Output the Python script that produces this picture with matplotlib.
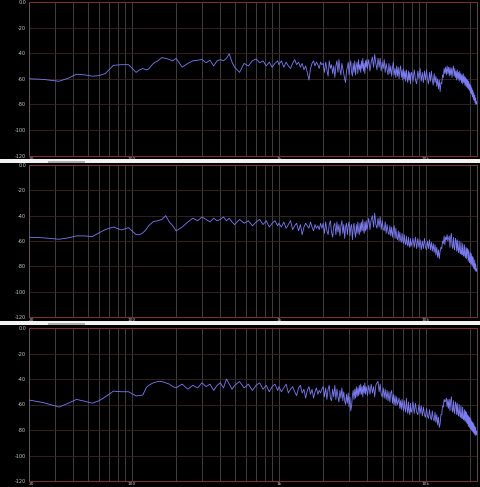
import numpy as np
import matplotlib.pyplot as plt
from matplotlib.patches import Rectangle
from matplotlib.transforms import blended_transform_factory

# frequency bins (Hz), shared by the three captures
freq_hz = [20, 25, 32, 37, 42, 48, 54, 60, 66, 75, 85, 95, 107, 113, 119, 125, 130, 140, 150, 160, 170, 180, 190,
           200, 220, 240, 260, 280, 300, 320, 340, 360, 380, 400, 420, 440, 460, 480, 500,
           540, 580, 620, 660, 700, 740, 780, 820, 860, 900, 940, 980,
           1000, 1040, 1080, 1120, 1160, 1200, 1240, 1280, 1320, 1360, 1400, 1440, 1480,
           1520, 1560, 1600, 1640, 1680, 1720, 1760, 1800, 1840, 1880, 1920, 1960,
           2000, 2040, 2080, 2120, 2160, 2200, 2240, 2280, 2320, 2360,
           2400, 2440, 2480, 2520, 2560, 2600, 2640, 2680, 2720, 2760,
           2800, 2840, 2880, 2920, 2960, 3000, 3040, 3080, 3120, 3160,
           3200, 3240, 3280, 3320, 3360, 3400, 3440, 3480, 3520, 3560,
           3600, 3640, 3680, 3720, 3760, 3800, 3840, 3880, 3920, 3960,
           4000, 4080, 4160, 4240, 4320, 4400, 4480, 4560, 4640, 4720,
           4800, 4880, 4960, 5040, 5120, 5200, 5280, 5360, 5440, 5520,
           5600, 5680, 5760, 5840, 5920, 6000, 6080, 6160, 6240, 6320,
           6400, 6480, 6560, 6640, 6720, 6800, 6880, 6960, 7040, 7120,
           7200, 7280, 7360, 7440, 7520, 7600, 7680, 7760, 7840, 7920,
           8000, 8160, 8320, 8480, 8640, 8800, 8960, 9120, 9280, 9440,
           9600, 9760, 9920, 10080, 10240, 10400, 10560, 10720, 10880, 11040,
           11200, 11360, 11520, 11680, 11840, 12000, 12160, 12320, 12480, 12640,
           12800, 12960, 13120, 13280, 13440, 13600, 13760, 13920, 14080, 14240,
           14400, 14560, 14720, 14880, 15040, 15200, 15360, 15520, 15680, 15840,
           16000, 16160, 16320, 16480, 16640, 16800, 16960, 17120, 17280, 17440,
           17600, 17760, 17920, 18080, 18240, 18400, 18560, 18720, 18880, 19040,
           19200, 19360, 19520, 19680, 19840, 20000, 20160, 20320, 20480, 20640,
           20800, 20960, 21120, 21280, 21440, 21600, 21760, 21920, 22050]

# level in dB, top capture
db_top = [-60, -60.5, -62, -59.5, -56.5, -57, -58, -57.5, -56, -49.5, -49, -49, -55, -53, -52, -53, -52.5, -48, -46, -43.5, -44, -45, -46,
          -44, -51, -48, -46, -45.5, -45, -47.5, -45.5, -50, -46, -45, -46, -44, -40.5, -47, -51,
          -55, -48, -50, -46, -44.5, -47.5, -46, -50, -47, -51, -48, -46,
          -49, -46, -51, -47, -50, -52, -48, -45, -49, -47, -51, -48, -53,
          -50, -55, -61, -52, -48, -46, -50, -47, -49, -52, -47, -49,
          -48, -55, -47, -53, -58, -46, -52, -49, -56, -50,
          -59, -50, -46, -55, -45, -53, -57, -48, -52, -56,
          -60, -63, -54, -51, -47, -57, -50, -46, -55, -58,
          -48, -55, -46, -57, -50, -47, -56, -45, -53, -49,
          -55, -46, -52, -44, -54, -48, -56, -46, -51, -45,
          -52, -45, -54, -47, -43, -51, -41, -48, -53, -44,
          -51, -44, -54, -47, -52, -45, -55, -48, -53, -57,
          -48, -56, -50, -58, -51, -47, -57, -52, -59, -50,
          -58, -51, -60, -53, -50, -59, -53, -61, -52, -60,
          -54, -62, -53, -59, -63, -54, -61, -55, -64, -56,
          -55, -62, -53, -61, -64, -54, -60, -52, -62, -55,
          -63, -54, -61, -53, -60, -64, -55, -62, -54, -61,
          -65, -56, -63, -58, -66, -60, -68, -61, -70, -63,
          -64, -57, -59, -52, -56, -51, -57, -50, -56, -51,
          -58, -51, -57, -52, -59, -53, -50, -58, -52, -59,
          -54, -61, -53, -60, -55, -62, -54, -61, -56, -63,
          -57, -64, -56, -63, -58, -65, -59, -66, -60, -67,
          -61, -68, -62, -69, -64, -71, -65, -72, -67, -74,
          -69, -76, -71, -77, -73, -79, -75, -80, -78]

# middle capture
db_mid = [-57, -57.5, -58.6, -57.5, -56, -56, -56.5, -53.5, -51, -49, -51.3, -49.5, -55, -55, -53.5, -51, -48, -44.7, -44, -43, -40, -45, -48,
          -52, -49, -45, -42, -44, -41, -43, -45, -42, -44, -43, -41, -44, -42, -45, -47,
          -43, -46, -44, -48, -45, -43, -47, -44, -49, -46, -44, -48,
          -46, -49, -45, -50, -47, -44, -51, -48, -46, -52, -47, -55, -49,
          -46, -48, -50, -45, -49, -52, -47, -50, -48, -51, -46, -50,
          -46, -54, -45, -52, -55, -47, -44, -53, -57, -48,
          -46, -55, -45, -53, -47, -56, -48, -44, -54, -47,
          -58, -49, -46, -55, -48, -45, -56, -49, -47, -59,
          -50, -46, -53, -57, -47, -54, -45, -52, -55, -46,
          -53, -45, -52, -43, -51, -54, -45, -52, -44, -51,
          -49, -42, -51, -43, -40, -49, -38, -47, -50, -42,
          -49, -41, -51, -44, -50, -52, -45, -54, -47, -53,
          -55, -48, -56, -49, -57, -51, -48, -58, -50, -57,
          -59, -52, -60, -53, -59, -61, -54, -60, -62, -55,
          -61, -63, -56, -62, -64, -57, -63, -65, -58, -64,
          -62, -58, -65, -57, -66, -58, -65, -59, -67, -60,
          -66, -58, -65, -67, -60, -66, -59, -67, -61, -68,
          -62, -69, -63, -71, -65, -73, -67, -74, -68, -65,
          -66, -60, -62, -56, -63, -57, -59, -55, -60, -58,
          -56, -65, -57, -54, -64, -66, -57, -65, -67, -58,
          -60, -68, -59, -67, -69, -60, -68, -70, -61, -69,
          -71, -62, -70, -72, -63, -71, -73, -65, -74, -66,
          -68, -76, -67, -75, -77, -69, -78, -70, -79, -72,
          -80, -73, -81, -82, -75, -83, -78, -84, -82]

# bottom capture
db_bottom = [-56.5, -58.5, -62, -59, -56, -57.5, -59, -57, -54, -49.5, -50, -50, -53.3, -53, -52.5, -47, -45, -43, -42, -42, -43, -44, -46,
             -47, -44, -48, -45, -47, -43, -46, -44, -49, -45, -43, -47, -40, -44, -48, -45,
             -42, -47, -44, -49, -45, -43, -48, -45, -50, -46, -44, -49,
             -46, -50, -47, -44, -51, -48, -46, -50, -53, -47, -45, -51, -48,
             -55, -49, -46, -52, -48, -55, -50, -47, -52, -49, -51, -48,
             -46, -54, -47, -56, -48, -45, -55, -57, -48, -54,
             -45, -56, -48, -54, -58, -49, -55, -47, -57, -50,
             -57, -60, -52, -59, -51, -62, -54, -65, -61, -53,
             -49, -56, -48, -55, -46, -54, -47, -53, -45, -52,
             -44, -52, -46, -54, -45, -51, -43, -52, -46, -49,
             -53, -45, -52, -44, -51, -46, -54, -45, -43, -42,
             -50, -44, -52, -54, -47, -55, -48, -56, -49, -57,
             -50, -58, -51, -49, -59, -52, -60, -53, -61, -54,
             -60, -58, -55, -63, -57, -64, -56, -62, -65, -57,
             -63, -66, -55, -63, -67, -58, -65, -68, -59, -66,
             -65, -58, -67, -59, -66, -68, -60, -67, -61, -69,
             -62, -68, -70, -63, -69, -71, -64, -70, -72, -65,
             -71, -73, -66, -74, -68, -76, -70, -78, -75, -68,
             -68, -61, -62, -56, -58, -57, -55, -62, -56, -63,
             -56, -65, -57, -54, -64, -66, -57, -65, -67, -58,
             -60, -68, -59, -67, -69, -60, -68, -70, -61, -69,
             -71, -62, -70, -72, -64, -73, -65, -74, -66, -75,
             -68, -77, -69, -78, -70, -79, -71, -80, -73, -81,
             -74, -82, -75, -83, -77, -84, -78, -84, -81]

db_ticks = [0, -20, -40, -60, -80, -100, -120]
db_tick_labels = ['0.0', '-20', '-40', '-60', '-80', '-100', '-120']
freq_ticks = [20, 100, 1000, 10000]
freq_tick_labels = ['20', '100', '1k', '10k']

W, H = 480, 487
fig = plt.figure(figsize=(W / 100, H / 100), dpi=100, facecolor='black')

# panel plot areas in pixels (top, bottom)
panels = [(2, 155.5), (165, 317), (328, 481)]
left_px, right_px = 29, 476.5

# white separators between the three captures
for y0, y1 in [(159, 163), (321, 325)]:
    fig.patches.append(Rectangle((0, 1 - y1 / H), 1, (y1 - y0) / H, transform=fig.transFigure,
                                 facecolor='#f2f2f2', edgecolor='none', zorder=0))
    fig.patches.append(Rectangle((48 / W, 1 - (y1 - 0.5) / H), 37 / W, 2 / H, transform=fig.transFigure,
                                 facecolor='#b0b0b0', edgecolor='none', zorder=1))

grid_freqs = [m * d for d in (10, 100, 1000, 10000) for m in range(1, 10) if 20 <= m * d <= 22050]

for (top, bot), db in zip(panels, [db_top, db_mid, db_bottom]):
    ax = fig.add_axes([left_px / W, 1 - bot / H, (right_px - left_px) / W, (bot - top) / H])
    ax.set_facecolor('black')
    ax.set_xscale('log')
    ax.set_xlim(20, 22050)
    ax.set_ylim(-120, 0)

    for f in grid_freqs:
        ax.axvline(f, color='#4a4a4a', lw=0.6, zorder=1)
    for d in db_ticks[1:-1]:
        ax.axhline(d, color='#3e2424', lw=0.6, zorder=1)

    ax.plot(freq_hz, db, color='#7c7cf2', lw=0.6, zorder=3)

    for side in ['top', 'bottom']:
        ax.spines[side].set_color('#7a3030')
        ax.spines[side].set_linewidth(0.8)
    for side in ['left', 'right']:
        ax.spines[side].set_color('#6a5a5a')
        ax.spines[side].set_linewidth(0.6)

    ax.set_xticks([])
    ax.minorticks_off()
    ax.set_yticks(db_ticks)
    ax.set_yticklabels(db_tick_labels)
    ax.tick_params(axis='y', length=0, pad=2, labelsize=3.5, labelcolor='#c8c8c8')

    trans = blended_transform_factory(ax.transData, ax.transAxes)
    for f, lab in zip(freq_ticks, freq_tick_labels):
        ax.text(f, -0.008, lab, transform=trans, ha='left' if f == 20 else 'center', va='top',
                fontsize=3.2, color='#c8c8c8')

plt.savefig('out.png', dpi=100, facecolor=fig.get_facecolor())
